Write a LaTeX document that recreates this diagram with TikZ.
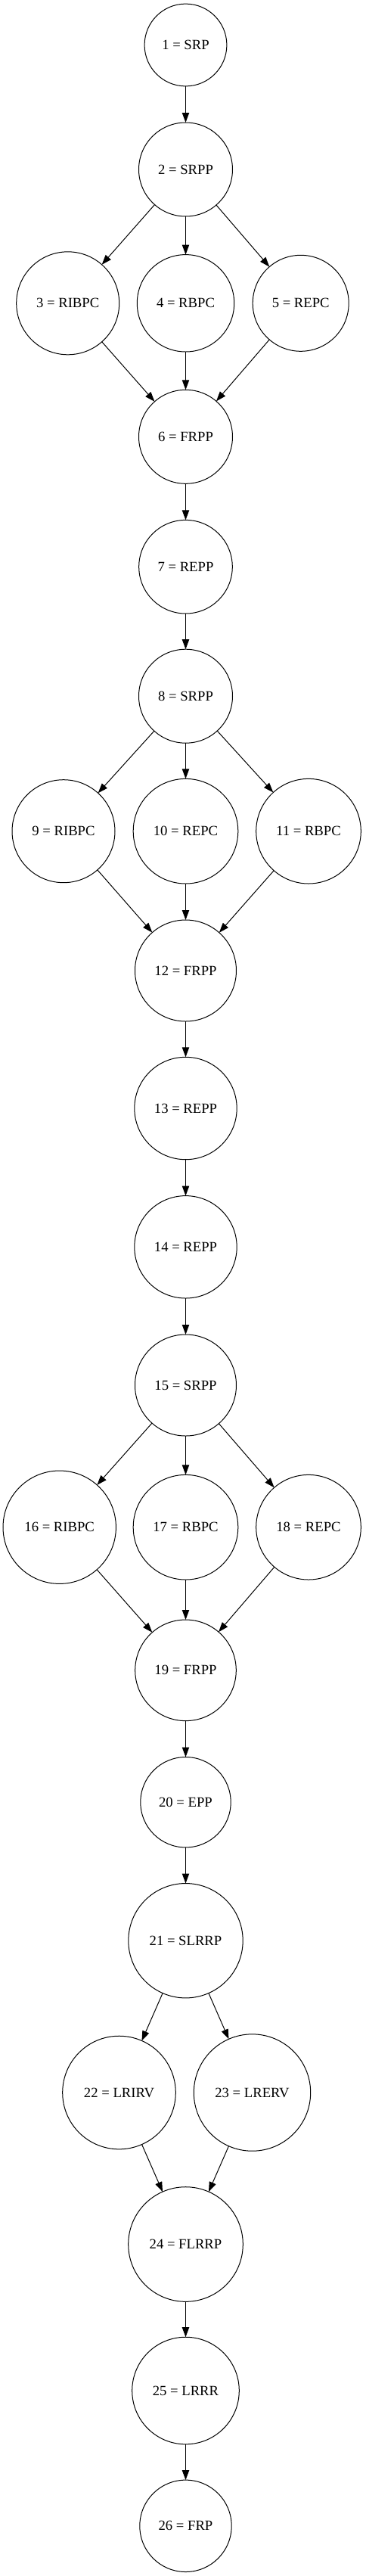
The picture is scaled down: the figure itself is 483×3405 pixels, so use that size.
\documentclass[tikz,border=0pt]{standalone}
\usepackage{fontspec}
\setmainfont{Liberation Serif}
\usetikzlibrary{arrows.meta}
\begin{document}
\begin{tikzpicture}[x=1pt,y=-1pt,
  st/.style={circle,draw,line width=1pt,inner sep=0pt,outer sep=0pt,font=\fontsize{18.67}{22}\selectfont},
  edge/.style={line width=1pt,-{Triangle[length=13pt,width=9.3pt]}}]
\useasboundingbox (0,0) rectangle (483,3405);
\node[st,minimum size=108.8pt] (n1) at (245.5,59.5) {1 = SRP};
\node[st,minimum size=124pt] (n2) at (245.5,224) {2 = SRPP};
\node[st,minimum size=136pt] (n3) at (89.7,400.8) {3 = RIBPC};
\node[st,minimum size=128.4pt] (n4) at (245.5,400.8) {4 = RBPC};
\node[st,minimum size=127pt] (n5) at (397.7,400.8) {5 = REPC};
\node[st,minimum size=124pt] (n6) at (245.5,577.3) {6 = FRPP};
\node[st,minimum size=123.6pt] (n7) at (245.5,749.2) {7 = REPP};
\node[st,minimum size=124pt] (n8) at (245.5,920.2) {8 = SRPP};
\node[st,minimum size=136pt] (n9) at (84,1098.7) {9 = RIBPC};
\node[st,minimum size=138.6pt] (n10) at (245.5,1098.7) {10 = REPC};
\node[st,minimum size=138.6pt] (n11) at (408,1098.7) {11 = RBPC};
\node[st,minimum size=134pt] (n12) at (245.5,1283) {12 = FRPP};
\node[st,minimum size=135.4pt] (n13) at (245.5,1465) {13 = REPP};
\node[st,minimum size=135.4pt] (n14) at (245.5,1648.3) {14 = REPP};
\node[st,minimum size=134pt] (n15) at (245.5,1831) {15 = SRPP};
\node[st,minimum size=149.4pt] (n16) at (78.7,2018.7) {16 = RIBPC};
\node[st,minimum size=138.6pt] (n17) at (245.5,2018.7) {17 = RBPC};
\node[st,minimum size=138.6pt] (n18) at (408,2018.7) {18 = REPC};
\node[st,minimum size=133.6pt] (n19) at (245.5,2207.8) {19 = FRPP};
\node[st,minimum size=119.4pt] (n20) at (245.5,2382.2) {20 = EPP};
\node[st,minimum size=151.4pt] (n21) at (245.5,2565.2) {21 = SLRRP};
\node[st,minimum size=149.6pt] (n22) at (157.5,2766) {22 = LRIRV};
\node[st,minimum size=154.4pt] (n23) at (333.5,2766) {23 = LRERV};
\node[st,minimum size=151.6pt] (n24) at (245.5,2966.5) {24 = FLRRP};
\node[st,minimum size=141.6pt] (n25) at (245.5,3160) {25 = LRRR};
\node[st,minimum size=121.4pt] (n26) at (245.5,3338.8) {26 = FRP};
\draw[edge] (n1) -- (n2);
\draw[edge] (n2) -- (n3);
\draw[edge] (n2) -- (n4);
\draw[edge] (n2) -- (n5);
\draw[edge] (n3) -- (n6);
\draw[edge] (n4) -- (n6);
\draw[edge] (n5) -- (n6);
\draw[edge] (n6) -- (n7);
\draw[edge] (n7) -- (n8);
\draw[edge] (n8) -- (n9);
\draw[edge] (n8) -- (n10);
\draw[edge] (n8) -- (n11);
\draw[edge] (n9) -- (n12);
\draw[edge] (n10) -- (n12);
\draw[edge] (n11) -- (n12);
\draw[edge] (n12) -- (n13);
\draw[edge] (n13) -- (n14);
\draw[edge] (n14) -- (n15);
\draw[edge] (n15) -- (n16);
\draw[edge] (n15) -- (n17);
\draw[edge] (n15) -- (n18);
\draw[edge] (n16) -- (n19);
\draw[edge] (n17) -- (n19);
\draw[edge] (n18) -- (n19);
\draw[edge] (n19) -- (n20);
\draw[edge] (n20) -- (n21);
\draw[edge] (n21) -- (n22);
\draw[edge] (n21) -- (n23);
\draw[edge] (n22) -- (n24);
\draw[edge] (n23) -- (n24);
\draw[edge] (n24) -- (n25);
\draw[edge] (n25) -- (n26);
\end{tikzpicture}
\end{document}
